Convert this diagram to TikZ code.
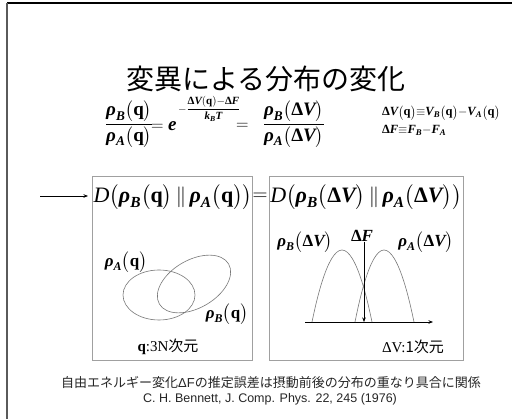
\documentclass[tikz,border=0pt]{standalone}
\usepackage{amsmath}
\usepackage{fontspec}
\setmainfont{Liberation Serif}
\newfontfamily\jp{Noto Sans CJK JP}
\newfontfamily\arial{Liberation Sans}
\usetikzlibrary{arrows.meta}
\newcommand\bi[1]{\text{\bfseries\itshape #1}}
\newcommand\bu[1]{\text{\bfseries #1}}
\newcommand\rhoB{\bi{ρ}_{\bi{B}}}
\newcommand\rhoA{\bi{ρ}_{\bi{A}}}
\newcommand\pq{\bigl(\bu{q}\bigr)}
\newcommand\pdv{\bigl(\bu{Δ}\bi{V}\bigr)}
\newcommand\fs[1]{\fontsize{#1}{#1}\selectfont}
\definecolor{boxgray}{RGB}{160,160,160}
\definecolor{curvegray}{RGB}{120,120,120}
\definecolor{framegray}{RGB}{90,90,90}
\tikzset{
  txt/.style={inner sep=0pt, outer sep=0pt},
  panel/.style={draw=boxgray, line width=0.8pt, inner sep=0pt},
  curve/.style={draw=curvegray, line width=0.6pt},
  tip/.style={-{Stealth[length=4.5pt,width=3.5pt]}, line width=0.6pt},
}
\begin{document}
\begin{tikzpicture}[x=1pt,y=-1pt]
\useasboundingbox (0,0) rectangle (512,419);
\fill[white] (0,0) rectangle (512,419);
% slide frame
\draw[black, line width=1.2pt] (7,3) -- (512,3);
\draw[framegray, line width=1.6pt] (7,3) -- (7,419);
% title
\node[txt, font=\jp\fs{28}] (title) at (266,79) {変異による分布の変化};
% main equation
\node[txt] (fr1) at (129,124) {\fs{19}$\dfrac{\rhoB\pq}{\rhoA\pq}$};
\node[txt, anchor=west] (eqe) at (151,126) {\fs{19}$=\bi{e}$};
\node[txt, anchor=west] (expo) at (178,109) {\fs{11}$-\dfrac{\bu{Δ}\bi{V}(\bu{q}){-}\bu{Δ}\bi{F}}{\bi{k}_{\bi{B}}\bi{T}}$};
\node[txt, anchor=west] (eq2) at (236,126) {\fs{19}$=$};
\node[txt] (fr2) at (294,124) {\fs{19}$\dfrac{\rhoB\pdv}{\rhoA\pdv}$};
% definitions
\node[txt, anchor=west] (d1) at (382,113) {\fs{12.5}$\bu{Δ}\bi{V}\pq{\equiv}\bi{V}_{\bi{B}}\pq{-}\bi{V}_{\bi{A}}\pq$};
\node[txt, anchor=west] (d2) at (382,130) {\fs{12.5}$\bu{Δ}\bi{F}{\equiv}\bi{F}_{\bi{B}}{-}\bi{F}_{\bi{A}}$};
% panels
\node[panel, minimum width=160pt, minimum height=184pt] (box1) at (172,268) {};
\node[panel, minimum width=194pt, minimum height=184pt] (box2) at (366,268) {};
% arrow
\coordinate (a0) at (40,196);
\coordinate (a1) at (88,196);
\draw[tip] (a0) -- (a1);
% D formulas
\node[txt] (D1) at (173,197) {\fs{22}$\textit{D}\bigl(\rhoB\pq\,\|\,\rhoA\pq\bigr)$};
\node[txt] (Deq) at (260,197) {\fs{22}$=$};
\node[txt] (D2) at (366,197) {\fs{22}$\textit{D}\bigl(\rhoB\pdv\,\|\,\rhoA\pdv\bigr)$};
% left panel: ellipses
\draw[curve] (159,295) ellipse [x radius=36, y radius=25];
\draw[curve, rotate around={30:(194,284)}] (194,284) ellipse [x radius=40, y radius=24];
\node[txt] (rAq) at (126,262) {\fs{17}$\rhoA\pq$};
\node[txt] (rBq) at (227,314) {\fs{17}$\rhoB\pq$};
\node[txt] (qlab) at (168,347) {\fs{15}\textbf{q}:3N{\jp 次元}};
% right panel: distributions
\coordinate (ax0) at (305,322);
\coordinate (ax1) at (433,322);
\draw[tip] (ax0) -- (ax1);
\draw[curve] (312,322) parabola bend (342,250) (372,322);
\draw[curve] (355,322) parabola bend (384,250) (414,322);
\node[txt] (rBv) at (305,242) {\fs{17}$\rhoB\pdv$};
\node[txt] (dF) at (362,236) {\fs{17}$\bu{Δ}\bi{F}$};
\node[txt] (rAv) at (426,242) {\fs{17}$\rhoA\pdv$};
\coordinate (f1) at (364,322);
\draw[tip] (dF.south -| f1) -- (f1);
\node[txt] (vlab) at (413,347) {\fs{15}ΔV:{\jp 1次元}};
% captions
\node[txt, font=\jp\fs{13}, text=black!85] (cap) at (271,383) {自由エネルギー変化{\arial ΔF}の推定誤差は摂動前後の分布の重なり具合に関係};
\node[txt, font=\arial\fs{12.5}, text=black!85] (ref) at (270,399) {C. H. Bennett, J. Comp. Phys. 22, 245 (1976)};
\end{tikzpicture}
\end{document}
